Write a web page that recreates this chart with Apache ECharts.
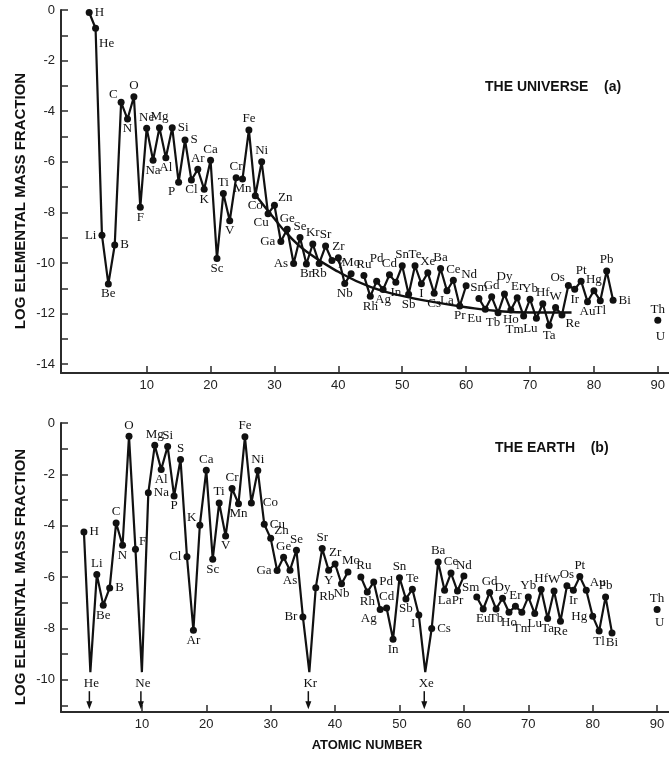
<!DOCTYPE html>
<html><head><meta charset="utf-8">
<script src="https://cdn.jsdelivr.net/npm/echarts@6/dist/echarts.min.js"></script>
<style>html,body{margin:0;padding:0;background:#fff;overflow:hidden}#c{width:669px;height:758px}</style>
</head><body><div id="c"></div>
<script>
// Element symbols, Z = index + 1
const elements = ['H','He','Li','Be','B','C','N','O','F','Ne','Na','Mg','Al','Si','P','S','Cl','Ar','K','Ca','Sc','Ti','V','Cr','Mn','Fe','Co','Ni','Cu','Zn','Ga','Ge','As','Se','Br','Kr','Rb','Sr','Y','Zr','Nb','Mo','Tc','Ru','Rh','Pd','Ag','Cd','In','Sn','Sb','Te','I','Xe','Cs','Ba','La','Ce','Pr','Nd','Pm','Sm','Eu','Gd','Tb','Dy','Ho','Er','Tm','Yb','Lu','Hf','Ta','W','Re','Os','Ir','Pt','Au','Hg','Tl','Pb','Bi','Po','At','Rn','Fr','Ra','Ac','Th','Pa','U'];

// (a) The Universe: log elemental mass fraction by Z (null = not plotted)
const universeLog = [
 -0.1,-0.72,-8.9,-10.83,-9.29,-3.65,-4.31,-3.43,-7.8,-4.67,
 -5.94,-4.65,-5.84,-4.65,-6.81,-5.14,-6.72,-6.3,-7.09,-5.94,
 -9.82,-7.25,-8.33,-6.63,-6.68,-4.74,-7.34,-6.0,-8.05,-7.72,
 -9.15,-8.67,-10.02,-8.99,-10.04,-9.25,-10.02,-9.33,-9.9,-9.79,
 -10.81,-10.43,null,-10.5,-11.32,-10.72,-11.05,-10.47,-10.76,-10.11,
 -11.24,-10.11,-10.82,-10.39,-11.2,-10.22,-11.1,-10.68,-11.7,-10.9,
 null,-11.4,-11.83,-11.34,-11.97,-11.23,-11.86,-11.38,-12.1,-11.43,
 -12.19,-11.61,-12.47,-11.76,-12.06,-10.89,-11.04,-10.72,-11.53,-11.1,
 -11.49,-10.32,-11.47,null,null,null,null,null,null,-12.26,
 null,-12.92
];
// smooth reference curve drawn through the universe panel
const trendZ = [27, 30, 32, 35, 40, 45, 50, 55, 60, 65, 70, 76.5];
const trendLog = [-7.3, -8.25, -8.85, -9.55, -10.35, -10.95, -11.3, -11.55, -11.75, -11.9, -11.96, -11.96];

// (b) The Earth
const earthLog = [
 -4.24,null,-5.9,-7.09,-6.42,-3.89,-4.76,-0.52,-4.91,null,
 -2.72,-0.87,-1.81,-0.91,-2.84,-1.42,-5.21,-8.07,-3.98,-1.84,
 -5.3,-3.11,-4.4,-2.55,-3.14,-0.54,-3.11,-1.85,-3.94,-4.49,
 -5.74,-5.23,-5.73,-4.95,-7.55,null,-6.41,-4.89,-5.73,-5.49,
 -6.26,-5.8,null,-5.99,-6.58,-6.19,-7.26,-7.2,-8.42,-6.02,
 -6.85,-6.47,-7.47,null,-8.0,-5.41,-6.51,-5.84,-6.54,-5.96,
 null,-6.77,-7.24,-6.6,-7.24,-6.82,-7.37,-7.13,-7.37,-6.77,
 -7.42,-6.48,-7.61,-6.54,-7.72,-6.34,-6.51,-5.98,-6.51,-7.52,
 -8.1,-6.77,-8.17,null,null,null,null,null,null,-7.26,
 null,-7.75
];
// noble gases below the Earth panel's scale (drawn as arrows)
const earthBelowScale = ['He','Ne','Kr','Xe'];
const earthCutoff = -9.7;

const xTicks = [10,20,30,40,50,60,70,80,90];
const yTicksTop = [0,-1,-2,-3,-4,-5,-6,-7,-8,-9,-10,-11,-12,-13,-14];
const yLabelsTop = [0,-2,-4,-6,-8,-10,-12,-14];
const yTicksBot = [0,-1,-2,-3,-4,-5,-6,-7,-8,-9,-10,-11];
const yLabelsBot = [0,-2,-4,-6,-8,-10];

// ---- label placement (style) ----
const topDir = {H:'e',He:'se',Li:'w',Be:'s',B:'e',C:'nw',N:'s',O:'n',F:'s',Ne:'n',Na:'s',Mg:'n',Al:'s',Si:'e',P:'sw',S:'e',Cl:'s',Ar:'n',K:'s',Ca:'n',Sc:'s',Ti:'n',V:'s',Cr:'n',Mn:'s',Fe:'n',Co:'s',Ni:'n',Cu:'s',Zn:'ne',Ga:'w',Ge:'n',As:'w',Se:'n',Br:'s',Kr:'n',Rb:'s',Sr:'n',Y:'e',Zr:'n',Nb:'s',Mo:'n',Ru:'n',Rh:'s',Pd:'n',Ag:'s',Cd:'n',In:'s',Sn:'n',Sb:'s',Te:'n',I:'s',Xe:'n',Cs:'s',Ba:'n',La:'s',Ce:'n',Pr:'s',Nd:'n',Sm:'n',Eu:'sw',Gd:'n',Tb:'s',Dy:'n',Ho:'s',Er:'n',Tm:'s',Yb:'n',Lu:'s',Hf:'n',Ta:'s',W:'n',Re:'se',Os:'nw',Ir:'s',Pt:'n',Au:'s',Hg:'n',Tl:'s',Pb:'n',Bi:'e',Th:'n',U:'w'};
const topExtra = {He:[0,6],Pd:[0,-12],Dy:[0,-6],Tm:[-9,3],Tb:[-5,0],Lu:[-6,0],Cu:[-7,-1],Y:[-2,4],Nd:[3,0]};
const botDir = {H:'e',Li:'n',Be:'s',B:'e',C:'n',N:'s',O:'n',F:'ne',Na:'e',Mg:'n',Al:'s',Si:'n',P:'s',S:'n',Cl:'w',Ar:'s',K:'nw',Ca:'n',Sc:'s',Ti:'n',V:'s',Cr:'n',Mn:'s',Fe:'n',Co:'e',Ni:'n',Cu:'e',Zn:'ne',Ga:'w',Ge:'n',As:'s',Se:'n',Br:'w',Rb:'se',Sr:'n',Y:'s',Zr:'n',Nb:'s',Mo:'n',Ru:'n',Rh:'s',Pd:'e',Ag:'sw',Cd:'n',In:'s',Sn:'n',Sb:'s',Te:'n',I:'sw',Cs:'e',Ba:'n',La:'s',Ce:'n',Pr:'s',Nd:'n',Sm:'n',Eu:'s',Gd:'n',Tb:'s',Dy:'n',Ho:'s',Er:'n',Tm:'s',Yb:'n',Lu:'s',Hf:'n',Ta:'s',W:'n',Re:'s',Os:'n',Ir:'s',Pt:'n',Au:'ne',Hg:'w',Tl:'s',Pb:'n',Bi:'s',Th:'n',U:'w'};
const botExtra = {Tm:[0,6],Co:[6,0],Mo:[3,0],Ru:[3,0],Sm:[-6,2]};
const offCanvas = ['U']; // dot falls just past the right edge in the reference

const DIRS = {
  n:{position:'top',distance:1,offset:[0,0]},
  s:{position:'bottom',distance:0,offset:[0,0]},
  e:{position:'right',distance:2,offset:[0,0]},
  w:{position:'left',distance:2,offset:[0,0]},
  ne:{position:'right',distance:0,offset:[0,-8]},
  nw:{position:'left',distance:0,offset:[0,-8]},
  se:{position:'right',distance:0,offset:[0,9]},
  sw:{position:'left',distance:0,offset:[0,9]}
};
const LABEL_FONT = '"Liberation Serif", "Times New Roman", serif';

function buildLine(values, dirMap, extra, hidden) {
  return values.map((v, i) => {
    const z = i + 1, name = elements[i];
    if (v === null) return {value: [z, '-']};
    if (hidden && hidden.includes(name)) return {value: [z, v], symbol: 'none', label: {show: false}};
    const d = DIRS[dirMap[name] || 'n'];
    const ex = extra[name] || [0, 0];
    const item = {
      value: [z, v], name: name,
      label: {show: true, formatter: name, position: d.position, distance: d.distance,
        offset: [d.offset[0] + ex[0], d.offset[1] + ex[1]]}
    };
    if (offCanvas.includes(name)) { item.itemStyle = {color: 'rgba(0,0,0,0)'}; }
    return item;
  });
}
const earthPlot = earthLog.map((v, i) => earthBelowScale.includes(elements[i]) ? earthCutoff : v);

const axisCol = '#2b2b2b';
function xAxis(idx, min, max) {
  return {type:'value', gridIndex: idx, min: min, max: max,
    axisLine:{show:true, onZero:false, lineStyle:{color:axisCol, width:2}},
    axisTick:{show:true, inside:true, length:7, lineStyle:{color:axisCol, width:1.5}, customValues: xTicks},
    axisLabel:{color:'#222', fontSize:13, fontFamily:'"Liberation Sans", Arial, sans-serif', margin:6, customValues: xTicks},
    splitLine:{show:false}};
}
function yAxis(idx, min, ticks, labels) {
  return {type:'value', gridIndex: idx, min: min, max: 0,
    axisLine:{show:true, onZero:false, lineStyle:{color:axisCol, width:2}},
    axisTick:{show:true, inside:true, length:7, lineStyle:{color:axisCol, width:1.5}, customValues: ticks},
    axisLabel:{color:'#222', fontSize:13, fontFamily:'"Liberation Sans", Arial, sans-serif', margin:6, customValues: labels},
    splitLine:{show:false}};
}

const labelBase = {color:'#111', fontSize:13, fontFamily: LABEL_FONT};
const lineBase = {type:'line', symbol:'circle', symbolSize:7, connectNulls:false,
  lineStyle:{color:'#111', width:2.2}, itemStyle:{color:'#111'}, label: labelBase, animation:false};

const chart = echarts.init(document.getElementById('c'), null, {renderer:'canvas'});
chart.setOption({
  backgroundColor:'#fff',
  animation:false,
  grid:[
    {left:61, top:10, width:612, height:363, outerBoundsMode:'none', containLabel:false},
    {left:61, top:423, width:612, height:289, outerBoundsMode:'none', containLabel:false}
  ],
  xAxis:[xAxis(0, -3.41, 92.38), xAxis(1, -2.56, 92.47)],
  yAxis:[yAxis(0, -14.35, yTicksTop, yLabelsTop), yAxis(1, -11.25, yTicksBot, yLabelsBot)],
  series:[
    Object.assign({}, lineBase, {xAxisIndex:0, yAxisIndex:0, data: buildLine(universeLog, topDir, topExtra)}),
    {type:'line', xAxisIndex:0, yAxisIndex:0, smooth:0.5, symbol:'none', animation:false,
      lineStyle:{color:'#111', width:2.4}, data: trendZ.map((z, i) => [z, trendLog[i]])},
    Object.assign({}, lineBase, {xAxisIndex:1, yAxisIndex:1, data: buildLine(earthPlot, botDir, botExtra, earthBelowScale)}),
    {type:'custom', xAxisIndex:1, yAxisIndex:1, clip:false, silent:true, animation:false,
      data: earthBelowScale.map(n => [elements.indexOf(n) + 1, earthCutoff]),
      renderItem: function(params, api) {
        const p = api.coord([api.value(0), api.value(1)]);
        const x = p[0] - 1, y = p[1];
        const name = elements[api.value(0) - 1];
        return {type:'group', children:[
          {type:'text', style:{text:name, x:x + 2, y:y + 11, align:'center', verticalAlign:'middle',
            font:'13px ' + LABEL_FONT, fill:'#111'}},
          {type:'line', shape:{x1:x, y1:y + 19, x2:x, y2:y + 31}, style:{stroke:'#111', lineWidth:1.5}},
          {type:'polygon', shape:{points:[[x - 3, y + 29], [x + 3, y + 29], [x, y + 37]]}, style:{fill:'#111'}}
        ]};
      }}
  ],
  graphic:[
    {type:'text', x:21, y:201, rotation:Math.PI/2, style:{text:'LOG ELEMENTAL MASS FRACTION', align:'center', verticalAlign:'middle', font:'bold 15px "Liberation Sans", Arial, sans-serif', fill:'#111'}},
    {type:'text', x:21, y:577, rotation:Math.PI/2, style:{text:'LOG ELEMENTAL MASS FRACTION', align:'center', verticalAlign:'middle', font:'bold 15px "Liberation Sans", Arial, sans-serif', fill:'#111'}},
    {type:'text', x:485, y:87, style:{text:'THE UNIVERSE    (a)', align:'left', verticalAlign:'middle', font:'bold 14px "Liberation Sans", Arial, sans-serif', fill:'#111'}},
    {type:'text', x:495, y:448, style:{text:'THE EARTH    (b)', align:'left', verticalAlign:'middle', font:'bold 14px "Liberation Sans", Arial, sans-serif', fill:'#111'}},
    {type:'text', x:367, y:745, style:{text:'ATOMIC NUMBER', align:'center', verticalAlign:'middle', font:'bold 13px "Liberation Sans", Arial, sans-serif', fill:'#111'}}
  ]
});
</script></body></html>
